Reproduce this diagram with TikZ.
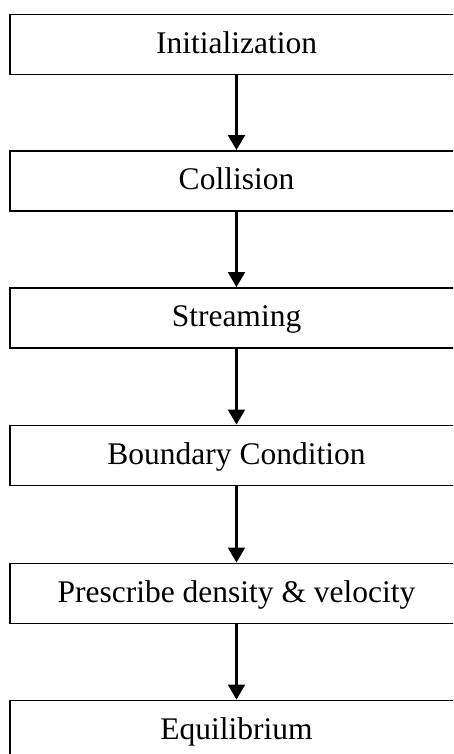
\documentclass[tikz,border=0pt]{standalone}
\usepackage{fontspec}
\setmainfont{Liberation Serif}
\usepackage{tikz}
\usetikzlibrary{arrows.meta}
\tikzset{
  stage/.style={draw=black, line width=1.9pt, minimum width=453pt, minimum height=60pt,
    inner sep=0pt, text height=22pt, text depth=4pt, font=\fontsize{31.5}{36}\selectfont},
  flow/.style={draw=black, line width=2.2pt, -{Triangle[width=17pt,length=15pt]}},
}
\begin{document}
\begin{tikzpicture}[x=1pt,y=1pt]
  \useasboundingbox (0,0) rectangle (453,754);
  \clip (0,0) rectangle (453,754);
  \node[stage] (init) at (236.5,709.5) {Initialization};
  \node[stage] (coll) at (236.5,573) {Collision};
  \node[stage] (strm) at (236.5,436) {Streaming};
  \node[stage] (bc)   at (236.5,298.5) {Boundary Condition};
  \node[stage] (pres) at (236.5,160.5) {Prescribe density \& velocity};
  \node[stage] (equi) at (236.5,23.5) {Equilibrium};
  \draw[flow] (init) -- (coll);
  \draw[flow] (coll) -- (strm);
  \draw[flow] (strm) -- (bc);
  \draw[flow] (bc) -- (pres);
  \draw[flow] (pres) -- (equi);
\end{tikzpicture}
\end{document}
